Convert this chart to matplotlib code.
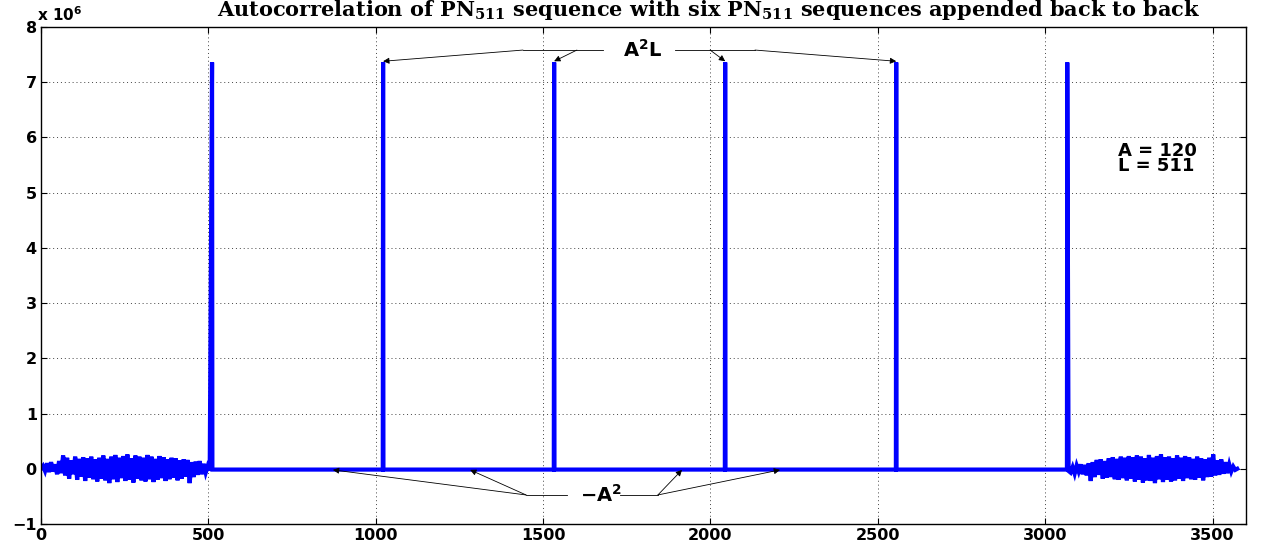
import numpy as np
import matplotlib
matplotlib.use('Agg')
import matplotlib.pyplot as plt

plt.rcParams['font.family'] = ['DejaVu Sans']
plt.rcParams['mathtext.default'] = 'regular'

# values in units of 1e6
peak_lags = [511, 1022, 1533, 2044, 2555, 3066]
peak_value = 7.3584      # A^2 L, A=120, L=511
floor_value = -0.0144    # -A^2

# partial overlap at the start (lags 0..504, step 6)
noise_left = [0.00, 0.05, -0.04, 0.10, -0.06, 0.12, -0.05, 0.08, -0.10, 0.14, -0.08,
              0.24, -0.12, 0.20, -0.18, 0.15, -0.10, 0.22, -0.20, 0.18, -0.14,
              0.21, -0.22, 0.19, -0.16, 0.22, -0.19, 0.17, -0.23, 0.20, -0.18,
              0.24, -0.21, 0.18, -0.26, 0.22, -0.19, 0.25, -0.24, 0.20, -0.17,
              0.23, -0.22, 0.26, -0.20, 0.19, -0.25, 0.24, -0.18, 0.22, -0.21,
              0.20, -0.23, 0.25, -0.19, 0.22, -0.24, 0.18, -0.20, 0.23, -0.17,
              0.21, -0.22, 0.17, -0.19, 0.20, -0.16, 0.19, -0.21, 0.15, -0.18,
              0.17, -0.14, 0.16, -0.26, 0.12, -0.15, 0.13, -0.11, 0.14, -0.10,
              0.09, -0.07, 0.05, -0.03]
# partial overlap at the end (lags 3070..3574, step 6)
noise_right = [-0.04, -0.07, 0.03, -0.09, 0.06, -0.05, 0.08, -0.10, 0.07, -0.12,
               0.10, -0.22, 0.12, -0.15, 0.16, -0.11, 0.17, -0.18, 0.14, -0.16,
               0.19, -0.15, 0.21, -0.19, 0.18, -0.20, 0.22, -0.17, 0.20, -0.21,
               0.23, -0.18, 0.21, -0.23, 0.24, -0.20, 0.22, -0.25, 0.19, -0.21,
               0.25, -0.22, 0.20, -0.26, 0.23, -0.19, 0.26, -0.24, 0.21, -0.20,
               0.22, -0.23, 0.19, -0.21, 0.24, -0.18, 0.20, -0.22, 0.23, -0.17,
               0.21, -0.19, 0.18, -0.20, 0.22, -0.16, 0.19, -0.21, 0.17, -0.15,
               0.20, -0.14, 0.26, -0.12, 0.15, -0.11, 0.17, -0.09, 0.12, -0.08,
               0.08, -0.05, 0.04, -0.02, 0.00]
lag_left = np.arange(0, 6*len(noise_left), 6)
lag_right = np.arange(3070, 3070 + 6*len(noise_right), 6)

# build the full series
x = list(lag_left); y = list(noise_left)
for i, p in enumerate(peak_lags):
    if i > 0:
        x.append(p-1); y.append(floor_value)
    x.append(p); y.append(peak_value)
    if i < len(peak_lags)-1:
        x.append(p+1); y.append(floor_value)
x += list(lag_right); y += list(noise_right)

fig = plt.figure(figsize=(12.66, 5.46), dpi=100)
ax = fig.add_axes([0.0324, 0.0403, 0.9518, 0.9102])
ax.plot(x, y, color='#0000ff', lw=3.0, solid_joinstyle='miter')

ax.set_xlim(0, 3600)
ax.set_ylim(-1, 8)
ax.set_xticks(range(0, 3600, 500))
ax.set_yticks(range(-1, 9))
ax.set_yticklabels(['\u22121'] + [str(v) for v in range(0, 9)])
ax.grid(True, linestyle=(0, (1, 3)), color='#444444', lw=0.7)
ax.tick_params(direction='in', top=True, right=True, length=4, labelsize=11.5, pad=3)
for lab in ax.get_xticklabels() + ax.get_yticklabels():
    lab.set_fontweight('bold')
for s in ax.spines.values():
    s.set_linewidth(1.0)

fig.text(37/1266, 1-15/546, 'x 10$^{6}$', fontsize=11, fontweight='bold', va='center', ha='left')
fig.text(709/1266, 1-16/546,
         'Autocorrelation of PN$_{511}$ sequence with six PN$_{511}$ sequences appended back to back',
         family='DejaVu Serif', fontsize=15, fontweight='bold', ha='center', va='baseline')

arrow = dict(arrowstyle='-|>', color='k', lw=0.6, mutation_scale=9, shrinkA=0, shrinkB=0)
ytop = 7.583
ax.text(1798, ytop, 'A$^2$L', fontsize=14, fontweight='bold', ha='center', va='center')
ax.plot([1440, 1679], [ytop, ytop], color='k', lw=0.6)
ax.plot([1894, 2133], [ytop, ytop], color='k', lw=0.6)
ax.annotate('', xy=(1022, 7.38), xytext=(1440, ytop), arrowprops=arrow)
ax.annotate('', xy=(1533, 7.38), xytext=(1601, ytop), arrowprops=arrow)
ax.annotate('', xy=(2044, 7.38), xytext=(1999, ytop), arrowprops=arrow)
ax.annotate('', xy=(2555, 7.38), xytext=(2133, ytop), arrowprops=arrow)

ybot = -0.474
ax.text(1673, ybot, '\u2212A$^2$', fontsize=14, fontweight='bold', ha='center', va='center')
ax.plot([1449, 1571], [ybot, ybot], color='k', lw=0.6)
ax.plot([1730, 1843], [ybot, ybot], color='k', lw=0.6)
ax.annotate('', xy=(872, -0.02), xytext=(1449, ybot), arrowprops=arrow)
ax.annotate('', xy=(1282, -0.02), xytext=(1449, ybot), arrowprops=arrow)
ax.annotate('', xy=(1915, -0.02), xytext=(1843, ybot), arrowprops=arrow)
ax.annotate('', xy=(2208, -0.02), xytext=(1843, ybot), arrowprops=arrow)

ax.text(3218, 5.76, 'A = 120', fontsize=13, fontweight='bold', ha='left', va='center')
ax.text(3218, 5.48, 'L = 511', fontsize=13, fontweight='bold', ha='left', va='center')

fig.savefig('out.png', dpi=100)
